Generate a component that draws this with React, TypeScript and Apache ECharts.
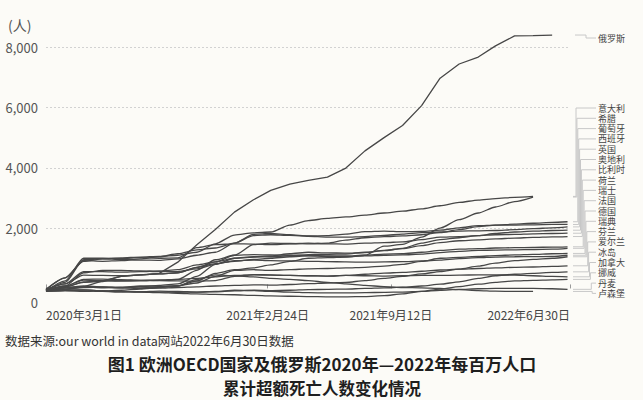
import React, { useEffect, useRef } from 'react';
import * as echarts from 'echarts';

// Monthly observation dates (cumulative excess deaths per million)
const DATES = [
  '2020-03-01', '2020-04-01', '2020-05-01', '2020-06-01', '2020-07-01', '2020-08-01',
  '2020-09-01', '2020-10-01', '2020-11-01', '2020-12-01', '2021-01-01', '2021-02-01',
  '2021-03-01', '2021-04-01', '2021-05-01', '2021-06-01', '2021-07-01', '2021-08-01',
  '2021-09-01', '2021-10-01', '2021-11-01', '2021-12-01', '2022-01-01', '2022-02-01',
  '2022-03-01', '2022-04-01', '2022-05-01', '2022-06-01', '2022-06-26',
];

const X_TICKS = ['2020-03-01', '2021-02-24', '2021-09-12', '2022-06-30'];
const Y_TICKS = [2000, 4000, 6000, 8000];
const Y_ZERO_LABEL_AT = -450;

const RUSSIA_NAME = '俄罗斯';
const RUSSIA = [0, -20, 50, 250, 400, 450, 500, 870, 1450, 1950, 2530, 2940, 3250, 3460, 3580, 3690, 3990, 4560, 5000, 5400, 6060, 6970, 7440, 7670, 8040, 8370, 8380, 8400, null];

const NAMES = ['意大利', '希腊', '葡萄牙', '西班牙', '英国', '奥地利', '比利时', '荷兰', '瑞士', '法国', '德国', '瑞典', '芬兰', '爱尔兰', '冰岛', '加拿大', '挪威', '丹麦', '卢森堡'];

const ITALY = [-50, 350, 900, 980, 1010, 1040, 1060, 1100, 1200, 1480, 1770, 1840, 1870, 2100, 2250, 2320, 2370, 2430, 2500, 2560, 2640, 2740, 2850, 2930, 2980, 3020, 3050, null, null];
const GREECE = [-80, -60, -100, -80, -60, -20, 30, 80, 250, 500, 620, 680, 780, 900, 1000, 1020, 1040, 1100, 1400, 1460, 1700, 2000, 2280, 2500, 2700, 2880, 3030, null, null];
const PORTUGAL = [-50, 60, 200, 230, 400, 450, 480, 520, 700, 880, 1100, 1450, 1500, 1490, 1480, 1500, 1600, 1680, 1720, 1740, 1780, 1850, 1950, 2050, 2100, 2130, 2160, 2190, 2210];
const SPAIN = [-30, 350, 920, 900, 920, 980, 1050, 1150, 1280, 1340, 1500, 1750, 1780, 1760, 1740, 1750, 1800, 1880, 1900, 1880, 1890, 1930, 2010, 2080, 2100, 2100, 2110, 2120, 2120];
const UK = [-80, 200, 950, 980, 960, 940, 930, 980, 1100, 1200, 1500, 1790, 1820, 1780, 1730, 1700, 1700, 1720, 1760, 1800, 1850, 1870, 1900, 1910, 1920, 1950, 1980, 2010, 2040];
const AUSTRIA = [-60, 30, 50, 20, 30, 60, 100, 150, 400, 800, 1000, 1050, 1080, 1150, 1200, 1180, 1170, 1190, 1250, 1330, 1500, 1620, 1680, 1750, 1820, 1870, 1900, 1920, 1930];
const BELGIUM = [-100, 250, 1000, 1000, 990, 1020, 1000, 1010, 1350, 1450, 1480, 1470, 1450, 1480, 1500, 1480, 1470, 1500, 1520, 1540, 1620, 1700, 1720, 1750, 1780, 1790, 1810, 1820, 1830];
const NETHERLANDS = [-50, 150, 560, 560, 540, 560, 580, 620, 780, 880, 1000, 1040, 1050, 1080, 1120, 1130, 1140, 1200, 1260, 1320, 1420, 1520, 1580, 1610, 1640, 1670, 1690, 1710, 1720];
const SWITZERLAND = [-80, 80, 280, 260, 240, 250, 270, 300, 600, 950, 1100, 1120, 1110, 1100, 1090, 1080, 1080, 1100, 1140, 1150, 1200, 1260, 1300, 1320, 1340, 1350, 1360, 1370, 1380];
const FRANCE = [-40, 150, 440, 430, 420, 450, 480, 520, 700, 820, 900, 960, 1000, 1050, 1080, 1060, 1050, 1080, 1100, 1110, 1140, 1190, 1230, 1260, 1270, 1280, 1290, 1300, 1330];
const GERMANY = [-50, 20, 60, 40, 30, 80, 70, 90, 180, 400, 600, 620, 600, 620, 650, 660, 680, 700, 740, 800, 900, 1000, 1030, 1060, 1090, 1110, 1130, 1150, 1160];
const SWEDEN = [-100, 80, 520, 600, 600, 580, 560, 560, 650, 800, 920, 940, 920, 910, 900, 890, 880, 870, 880, 890, 910, 940, 990, 1020, 1040, 1050, 1055, 1060, 1100];
const FINLAND = [-50, -20, 30, 40, 20, 0, 10, 30, 50, 80, 100, 120, 110, 130, 160, 180, 200, 260, 330, 400, 480, 560, 640, 740, 840, 920, 960, 1000, 1050];
const IRELAND = [-60, 60, 300, 310, 290, 270, 260, 250, 240, 260, 400, 460, 450, 430, 420, 410, 430, 470, 510, 530, 570, 610, 640, 660, 680, 700, 710, 730, 750];
const ICELAND = [-100, -80, -80, -100, -120, -110, -90, -100, -120, -110, -80, -60, -70, -60, -40, -30, -20, 0, 20, 40, 80, 140, 220, 330, 420, 470, 500, 530, 550];
const CANADA = [-30, 40, 220, 250, 260, 270, 280, 300, 330, 380, 430, 450, 440, 430, 420, 410, 430, 420, 410, 420, 430, 430, 440, 450, 450, 440, 420, 400, 385];
const NORWAY = [-80, -60, -50, -80, -100, -120, -140, -160, -180, -200, -210, -230, -250, -260, -270, -280, -280, -270, -240, -180, -100, -20, 60, 140, 200, 250, 270, 285, 300];
const DENMARK = [-60, -40, -50, -80, -100, -110, -120, -130, -120, -100, -60, -70, -100, -120, -140, -150, -150, -140, -130, -120, -100, -60, -30, -10, 0, 0, 0, -10, -30];
const LUXEMBOURG = [-40, 20, 80, 50, 30, 20, 40, 80, 300, 450, 420, 380, 330, 300, 260, 200, 150, 100, 60, 30, 20, 0, -40, -70, -90, -100, -100, null, null];

const VALUES = [ITALY, GREECE, PORTUGAL, SPAIN, UK, AUSTRIA, BELGIUM, NETHERLANDS, SWITZERLAND, FRANCE, GERMANY, SWEDEN, FINLAND, IRELAND, ICELAND, CANADA, NORWAY, DENMARK, LUXEMBOURG];

const SOURCE_TEXT = '数据来源:our world in data网站2022年6月30日数据';
const TITLE_1 = '图1 欧洲OECD国家及俄罗斯2020年—2022年每百万人口';
const TITLE_2 = '累计超额死亡人数变化情况';
const UNIT = '(人)';

const FONT = '"Noto Sans CJK SC", "Noto Sans", sans-serif';

function ts(s: string): number {
  const [y, m, d] = s.split('-').map(Number);
  return Date.UTC(y, m - 1, d);
}

function toSeriesData(vals: (number | null)[]) {
  const out: [number, number][] = [];
  DATES.forEach((d, i) => {
    const v = vals[i];
    if (v !== null && v !== undefined) out.push([ts(d), v]);
  });
  return out;
}

function fmtThousands(v: number): string {
  return String(v).replace(/\B(?=(\d{3})+(?!\d))/g, ',');
}

export default function App() {
  const ref = useRef<HTMLDivElement>(null);

  useEffect(() => {
    if (!ref.current) return;
    const chart = echarts.init(ref.current, null, { renderer: 'svg' });

    const lineStyle = { color: '#474747', width: 1.3 };
    const series: any[] = [
      {
        name: RUSSIA_NAME,
        type: 'line',
        data: toSeriesData(RUSSIA),
        showSymbol: false,
        symbol: 'none',
        lineStyle,
        z: 3,
      },
      ...NAMES.map((n, i) => ({
        name: n,
        type: 'line',
        data: toSeriesData(VALUES[i]),
        symbol: 'none',
        showSymbol: false,
        smooth: 0.25,
        smoothMonotone: 'x',
        lineStyle,
      })),
    ];

    chart.setOption({
      animation: false,
      backgroundColor: '#fcfbf7',
      textStyle: { fontFamily: FONT },
      grid: { left: 46, right: 73, top: 29, bottom: 98, containLabel: false },
      xAxis: {
        type: 'value',
        min: ts(X_TICKS[0]),
        max: ts(X_TICKS[X_TICKS.length - 1]),
        axisLine: { show: false },
        axisTick: {
          show: true,
          inside: true,
          length: 4,
          lineStyle: { color: '#9a9a9a' },
          customValues: X_TICKS.map(ts),
        },
        axisLabel: {
          customValues: X_TICKS.map(ts),
          color: '#444',
          fontSize: 12,
          fontFamily: FONT,
          margin: 6,
          showMinLabel: true,
          showMaxLabel: true,
          alignMinLabel: 'left',
          alignMaxLabel: 'right',
          hideOverlap: false,
          formatter: (v: number) => {
            const d = new Date(v);
            return `${d.getUTCFullYear()}年${d.getUTCMonth() + 1}月${d.getUTCDate()}日`;
          },
        },
        splitLine: { show: false },
      },
      yAxis: {
        type: 'value',
        min: -450,
        max: 8600,
        axisLine: { show: false },
        axisTick: { show: false, customValues: Y_TICKS },
        axisLabel: {
          customValues: [Y_ZERO_LABEL_AT, ...Y_TICKS],
          color: '#555',
          fontSize: 13,
          fontFamily: FONT,
          margin: 8,
          formatter: (v: number) => (v < 0 ? '0' : fmtThousands(v)),
        },
        splitLine: {
          show: true,
          lineStyle: { color: '#d2d2d2', type: [2, 2], width: 1 },
        },
      },
      series,
    });

    // Right-hand labels with leader lines, anchored to each series' last point
    const graphics: any[] = [];
    const leaderColor = '#c8c8c8';
    const labelStyle = (text: string) => ({
      text,
      fontSize: 9,
      lineHeight: 10,
      fontFamily: FONT,
      fill: '#444',
      verticalAlign: 'middle',
      align: 'left',
    });
    const lastPoint = (vals: (number | null)[]) => {
      for (let i = vals.length - 1; i >= 0; i--) {
        if (vals[i] !== null && vals[i] !== undefined) return [ts(DATES[i]), vals[i] as number];
      }
      return [ts(DATES[0]), 0];
    };
    const labelX = 598;
    const startX = 573;
    {
      const p = chart.convertToPixel({ gridIndex: 0 }, lastPoint(RUSSIA)) as number[];
      const ly = 38;
      graphics.push({
        type: 'polyline',
        shape: { points: [[startX + 2, p[1]], [586, p[1]], [586, ly], [labelX - 2, ly]] },
        style: { stroke: leaderColor, lineWidth: 1, fill: null },
        silent: true,
      });
      graphics.push({ type: 'text', x: labelX, y: ly, style: labelStyle(RUSSIA_NAME) });
    }
    NAMES.forEach((n, i) => {
      const p = chart.convertToPixel({ gridIndex: 0 }, lastPoint(VALUES[i])) as number[];
      const ly = 108 + i * 10.3;
      const vx = 576 + i * 0.9;
      graphics.push({
        type: 'polyline',
        shape: { points: [[startX, p[1]], [vx, p[1]], [vx, ly], [labelX - 2, ly]] },
        style: { stroke: leaderColor, lineWidth: 1, fill: null },
        silent: true,
      });
      graphics.push({ type: 'text', x: labelX, y: ly, style: labelStyle(n) });
    });

    graphics.push(
      {
        type: 'text',
        x: 8,
        y: 25,
        style: { text: UNIT, fontSize: 14, fontFamily: FONT, fill: '#555', verticalAlign: 'middle', align: 'left' },
      },
      {
        type: 'text',
        x: 5,
        y: 340,
        style: { text: SOURCE_TEXT, fontSize: 12.5, fontFamily: FONT, fill: '#333', verticalAlign: 'middle', align: 'left' },
      },
      {
        type: 'text',
        x: 322,
        y: 363,
        style: { text: TITLE_1, fontSize: 17, fontWeight: 'bold', fontFamily: FONT, fill: '#1e1e1e', verticalAlign: 'middle', align: 'center' },
      },
      {
        type: 'text',
        x: 322,
        y: 388,
        style: { text: TITLE_2, fontSize: 16.5, fontWeight: 'bold', fontFamily: FONT, fill: '#1e1e1e', verticalAlign: 'middle', align: 'center' },
      },
    );

    chart.setOption({ graphic: { elements: graphics } });

    return () => chart.dispose();
  }, []);

  return (
    <div
      ref={ref}
      style={{ position: 'fixed', left: 0, top: 0, width: 643, height: 400, background: '#fcfbf7' }}
    />
  );
}
